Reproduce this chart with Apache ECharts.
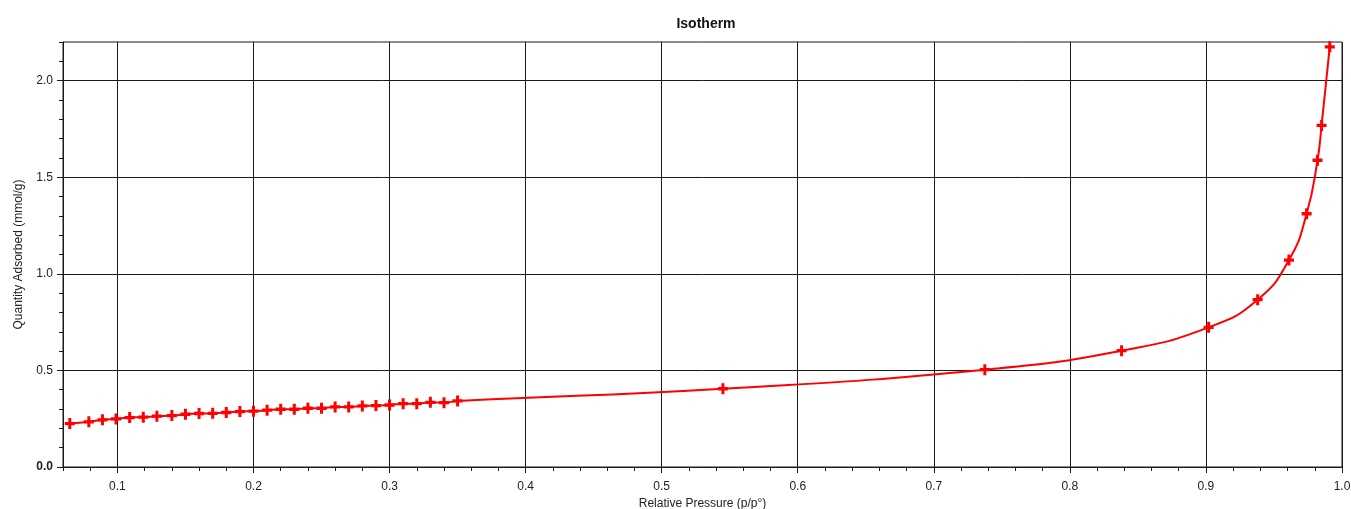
<!DOCTYPE html>
<html>
<head>
<meta charset="utf-8">
<script src="https://cdn.jsdelivr.net/npm/echarts@6/dist/echarts.min.js"></script>
<style>
html,body{margin:0;padding:0;background:#fff;}
#chart{width:1351px;height:509px;}
</style>
</head>
<body>
<div id="chart"></div>
<script>
// Relative pressure (p/p°)
var pressure = [0.065, 0.079, 0.089, 0.099, 0.109, 0.119, 0.129, 0.140, 0.150, 0.160,
  0.170, 0.180, 0.190, 0.200, 0.210, 0.220, 0.230, 0.240, 0.250, 0.260,
  0.270, 0.280, 0.290, 0.300, 0.310, 0.320, 0.330, 0.340, 0.350,
  0.545, 0.7375, 0.838, 0.902, 0.938, 0.961, 0.974, 0.982, 0.985, 0.991];
// Quantity adsorbed (mmol/g)
var adsorbed = [0.225, 0.234, 0.244, 0.249, 0.256, 0.258, 0.263, 0.266, 0.273, 0.277,
  0.278, 0.282, 0.287, 0.289, 0.294, 0.299, 0.299, 0.304, 0.304, 0.311,
  0.311, 0.316, 0.318, 0.321, 0.328, 0.328, 0.335, 0.333, 0.342,
  0.405, 0.504, 0.602, 0.723, 0.866, 1.071, 1.311, 1.588, 1.768, 2.175];

var xMajorTicks = [0.1, 0.2, 0.3, 0.4, 0.5, 0.6, 0.7, 0.8, 0.9, 1.0];
var xMinorTicks = [0.06,0.08,0.1,0.12,0.14,0.16,0.18,0.2,0.22,0.24,0.26,0.28,0.3,0.32,0.34,0.36,0.38,0.4,
  0.42,0.44,0.46,0.48,0.5,0.52,0.54,0.56,0.58,0.6,0.62,0.64,0.66,0.68,0.7,0.72,0.74,0.76,0.78,0.8,
  0.82,0.84,0.86,0.88,0.9,0.92,0.94,0.96,0.98,1.0];
var yMajorTicks = [0, 0.5, 1.0, 1.5, 2.0];
var yMinorTicks = [0,0.1,0.2,0.3,0.4,0.5,0.6,0.7,0.8,0.9,1.0,1.1,1.2,1.3,1.4,1.5,1.6,1.7,1.8,1.9,2.0,2.1,2.2];

var data = pressure.map(function (p, i) { return [p, adsorbed[i]]; });

var font = 'Liberation Sans, Arial, sans-serif';
var chart = echarts.init(document.getElementById('chart'), null, {renderer: 'canvas'});
var lineBlack = {color: '#1a1a1a', width: 1};

chart.setOption({
  animation: false,
  backgroundColor: '#fff',
  title: {
    text: 'Isotherm',
    left: 701, top: 12, textAlign: 'center',
    textStyle: {fontFamily: font, fontSize: 14, fontWeight: 'bold', color: '#111'}
  },
  grid: {
    left: 63, right: 9, top: 42, bottom: 42,
    containLabel: false, outerBoundsMode: 'none',
    show: true, borderColor: '#1a1a1a', borderWidth: 1, backgroundColor: 'transparent'
  },
  xAxis: [{
    type: 'value', min: 0.06, max: 1.0, position: 'bottom',
    name: 'Relative Pressure (p/p°)', nameLocation: 'middle', nameGap: 29,
    nameTextStyle: {fontFamily: font, fontSize: 12, color: '#222'},
    axisLine: {show: true, onZero: false, lineStyle: lineBlack},
    axisTick: {show: true, inside: false, length: 6, customValues: xMajorTicks, lineStyle: lineBlack},
    axisLabel: {customValues: xMajorTicks, margin: 14, fontFamily: font, fontSize: 12, color: '#222',
      formatter: function (v) { return v.toFixed(1); }},
    splitLine: {show: true, lineStyle: lineBlack}
  }, {
    type: 'value', min: 0.06, max: 1.0, position: 'bottom', offset: 0,
    axisLine: {show: false, onZero: false},
    axisTick: {show: true, inside: false, length: 4, customValues: xMinorTicks, lineStyle: lineBlack},
    axisLabel: {show: false},
    splitLine: {show: false}
  }],
  yAxis: [{
    type: 'value', min: 0, max: 2.2, position: 'left',
    name: 'Quantity Adsorbed (mmol/g)', nameLocation: 'middle', nameGap: 38,
    nameTextStyle: {fontFamily: font, fontSize: 12, color: '#222'},
    axisLine: {show: true, onZero: false, lineStyle: lineBlack},
    axisTick: {show: true, inside: false, length: 6, customValues: yMajorTicks, lineStyle: lineBlack},
    axisLabel: {customValues: yMajorTicks, margin: 10, fontFamily: font, fontSize: 12, color: '#222',
      formatter: function (v) { return v === 0 ? '{b|0.0}' : v.toFixed(1); },
      rich: {b: {fontFamily: font, fontSize: 12, fontWeight: 'bold', color: '#222'}}},
    splitLine: {show: true, lineStyle: lineBlack}
  }, {
    type: 'value', min: 0, max: 2.2, position: 'left', offset: 0,
    axisLine: {show: false, onZero: false},
    axisTick: {show: true, inside: false, length: 4, customValues: yMinorTicks, lineStyle: lineBlack},
    axisLabel: {show: false},
    splitLine: {show: false}
  }],
  series: [{
    type: 'line',
    xAxisIndex: 0, yAxisIndex: 0,
    data: data,
    smooth: 0.5,
    symbol: 'path://M3.5,0h3v3.5h3.5v3h-3.5v3.5h-3v-3.5h-3.5v-3h3.5z',
    symbolSize: [10, 11],
    itemStyle: {color: '#ff0000'},
    lineStyle: {color: '#ff0000', width: 2},
    clip: false
  }]
});
</script>
</body>
</html>
